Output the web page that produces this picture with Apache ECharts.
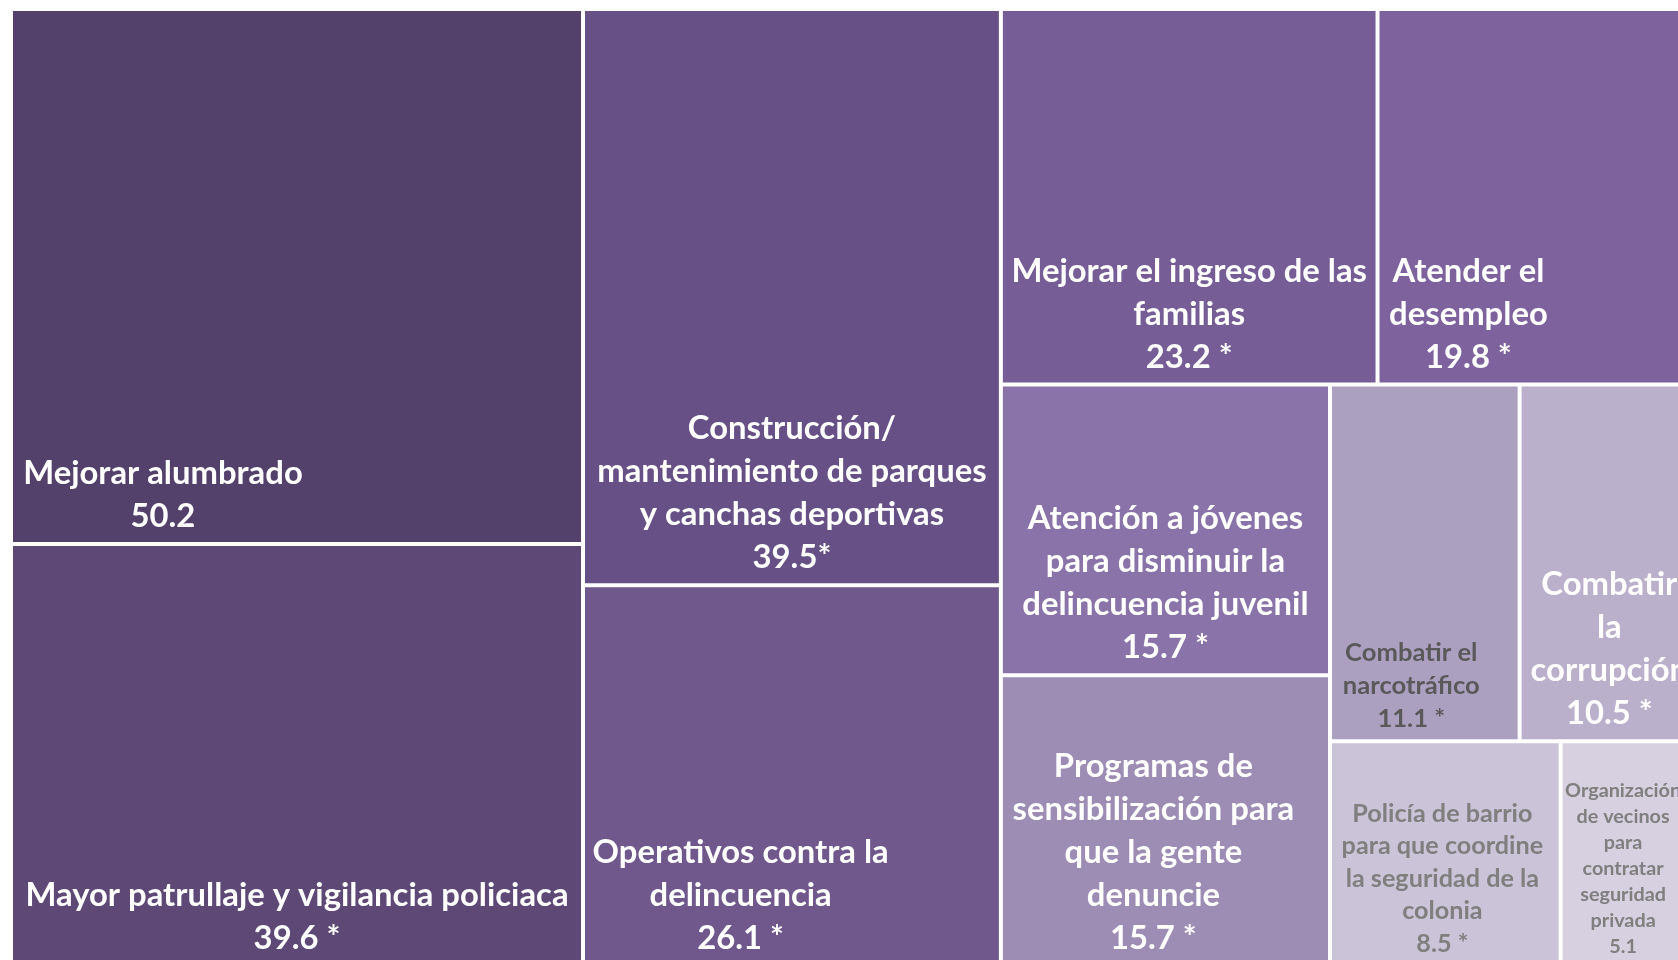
<!DOCTYPE html>
<html>
<head>
<meta charset="utf-8">
<style>
  html, body { margin: 0; padding: 0; background: #ffffff; }
  #chart { width: 1678px; height: 960px; }
</style>
<script src="https://cdn.jsdelivr.net/npm/echarts@6/dist/echarts.min.js"></script>
</head>
<body>
<div id="chart"></div>
<script>
// ---- data ----
const categories = [
  'Mejorar alumbrado',
  'Mayor patrullaje y vigilancia policiaca',
  'Construcción/\nmantenimiento de parques\ny canchas deportivas',
  'Operativos contra la\ndelincuencia',
  'Mejorar el ingreso de las\nfamilias',
  'Atender el\ndesempleo',
  'Atención a jóvenes\npara disminuir la\ndelincuencia juvenil',
  'Programas de\nsensibilización para\nque la gente\ndenuncie',
  'Combatir el\nnarcotráfico',
  'Combatir\nla\ncorrupción',
  'Policía de barrio\npara que coordine\nla seguridad de la\ncolonia',
  'Organización\nde vecinos\npara\ncontratar\nseguridad\nprivada'
];
const values = [50.2, 39.6, 39.5, 26.1, 23.2, 19.8, 15.7, 15.7, 11.1, 10.5, 8.5, 5.1];
const marks = ['', ' *', '*', ' *', ' *', ' *', ' *', ' *', ' *', ' *', ' *', ''];
// hierarchy of the tiles (indices into the arrays above)
const grouping = [[0, 1], [2, 3], [[4, 5], [[6, 7], [[8, 9], [10, 11]]]]];

// ---- styles ----
const colors = ['#53416B', '#5E4876', '#665086', '#70578C', '#765D96', '#7E629E',
                '#8A73A8', '#9D8CB4', '#ACA0C1', '#BBB0CB', '#CBC3D8', '#D6D0E0'];
const textColors = ['#fff', '#fff', '#fff', '#fff', '#fff', '#fff',
                    '#fff', '#fff', '#595959', '#fff', '#7F7F7F', '#7F7F7F'];
const labelAnchorX = ['26.4%', '50%', '50%', '37.6%', '50%', '28%',
                      '50%', '46.3%', '42.7%', '50%', '48.7%', '45%'];
const textSizes = { big: [32.8, 43], mid: [25.6, 33], mid2: [25.2, 32.5], small: [19.8, 26] };
const textSizeClass = ['big', 'big', 'big', 'big', 'big', 'big',
                       'big', 'big', 'mid', 'big', 'mid2', 'small'];

function leaf(i) {
  const sz = textSizes[textSizeClass[i]];
  return {
    name: categories[i],
    value: values[i],
    itemStyle: { color: colors[i], borderWidth: 2, borderColor: '#ffffff', gapWidth: 0 },
    label: {
      show: true,
      position: [labelAnchorX[i], '100%'],
      offset: [0, -4],
      align: 'center',
      verticalAlign: 'bottom',
      padding: 0,
      overflow: 'none',
      fontFamily: 'Lato',
      fontWeight: 'bold',
      fontSize: sz[0],
      lineHeight: sz[1],
      color: textColors[i],
      formatter: function () { return categories[i] + '\n' + values[i].toFixed(1) + marks[i]; }
    }
  };
}
let gid = 0;
function build(g) {
  if (typeof g === 'number') return leaf(g);
  return { name: 'grupo' + (gid++), children: g.map(build) };
}
const treeData = grouping.map(build);

const chart = echarts.init(document.getElementById('chart'), null, { renderer: 'canvas' });
chart.setOption({
  animation: false,
  backgroundColor: '#ffffff',
  series: [{
    type: 'treemap',
    left: 11, top: 9, width: 1688, height: 957,
    squareRatio: 1,
    sort: false,
    roam: false,
    nodeClick: false,
    visibleMin: 0,
    breadcrumb: { show: false },
    emphasis: { disabled: true },
    itemStyle: { borderWidth: 0, gapWidth: 0, borderColor: '#ffffff' },
    upperLabel: { show: false },
    data: treeData
  }]
});
</script>
</body>
</html>
